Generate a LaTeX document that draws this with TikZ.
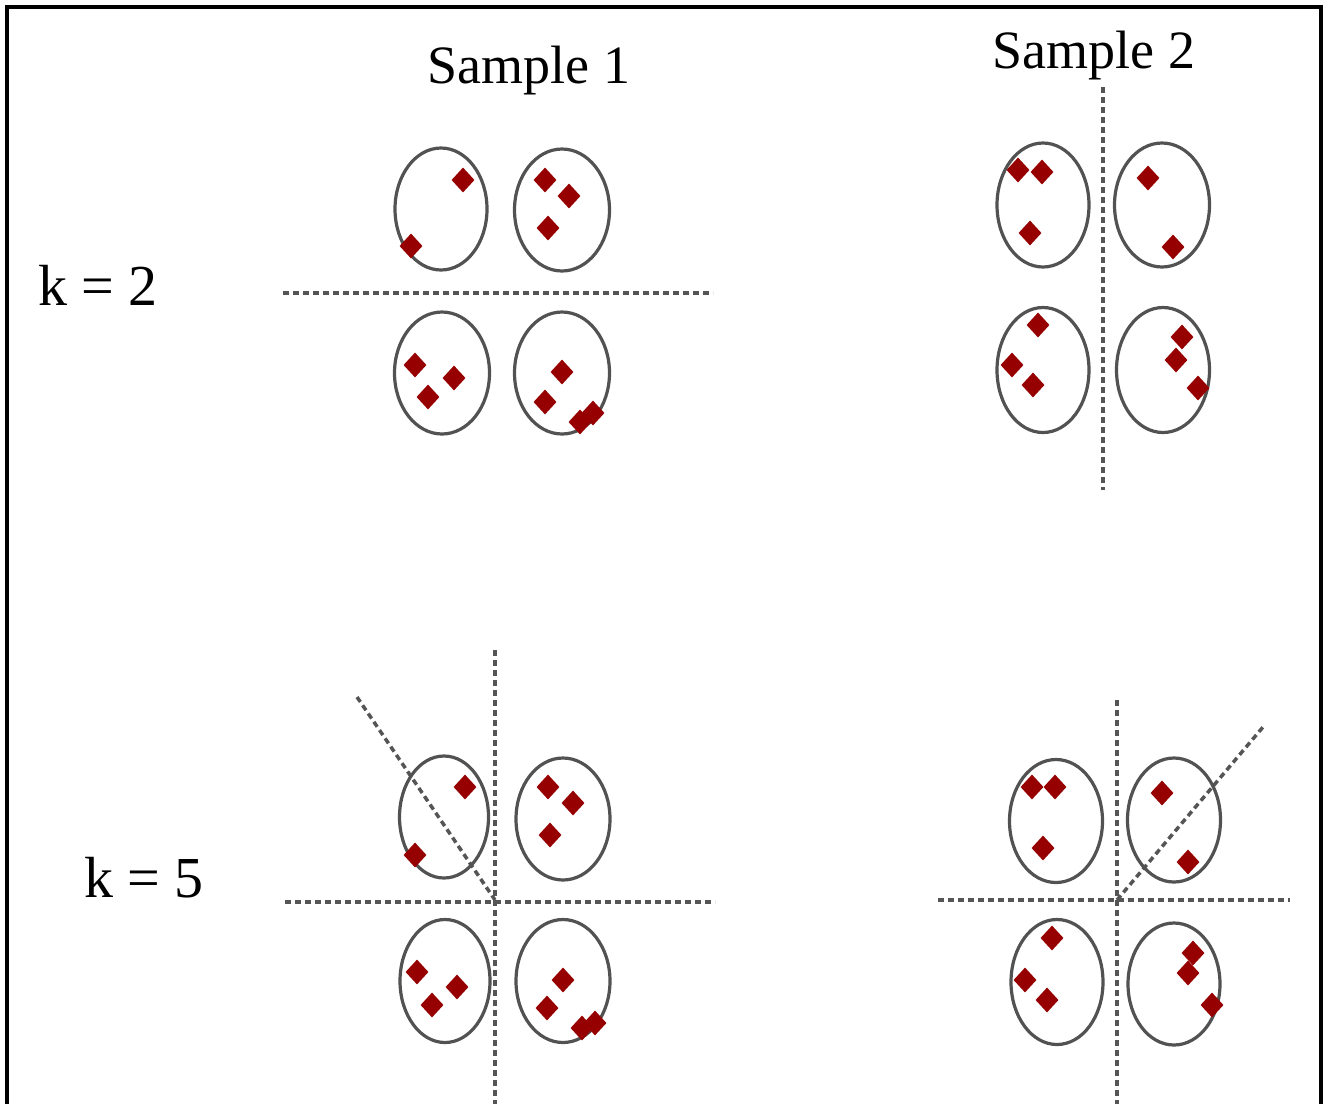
\documentclass[tikz,border=0pt]{standalone}
\usepackage{fontspec}
\setmainfont{Liberation Serif}
\usetikzlibrary{shapes.geometric}
\definecolor{ringgray}{RGB}{82,82,82}
\definecolor{cutgray}{RGB}{85,85,85}
\definecolor{ptred}{RGB}{150,0,0}
\begin{document}
\begin{tikzpicture}[x=1pt,y=-1pt,
  ring/.style={draw=ringgray,line width=3.2pt,ellipse,inner sep=0pt,
               minimum width=92pt,minimum height=122pt},
  pt/.style={fill=ptred,diamond,inner sep=0pt,minimum width=23pt,minimum height=25pt},
  cut/.style={draw=cutgray,line width=4.5pt,dash pattern=on 6pt off 4pt},
  lbl/.style={inner sep=0pt,anchor=base,font=\fontsize{54}{60}\selectfont},
  rowlbl/.style={inner sep=0pt,anchor=base west,font=\fontsize{58}{64}\selectfont}]
\useasboundingbox (0,0) rectangle (1325,1104);
% frame (open at the bottom)
\draw[line width=4pt] (7,1104) -- (7,7) -- (1321,7) -- (1321,1104);

% column and row labels
\node[lbl] (s1) at (529,83) {Sample 1};
\node[lbl] (s2) at (1094,68) {Sample 2};
\node[rowlbl] (k2) at (38,305) {k = 2};
\node[rowlbl] (k5) at (84,897) {k = 5};

% ---- Sample 1, k = 2 ----
\coordinate (a1) at (283,293);
\coordinate (a2) at (713,293);
\draw[cut] (a1) -- (a2);
\node[ring] (p1) at (441,209) {};
\node[ring,minimum width=95pt] (p2) at (562,210) {};
\node[ring,minimum width=95pt] (p3) at (442,373) {};
\node[ring,minimum width=95pt] (p4) at (562,373) {};
\foreach \x/\y in {463/180,411/246,
                   545/180,569/196,548/228,
                   415/365,454/378,428/397,
                   562/372,545/402,580/422,593/413}
  \node[pt] at (\x,\y) {};

% ---- Sample 2, k = 2 ----
\coordinate (b1) at (1103,87);
\coordinate (b2) at (1103,490);
\draw[cut] (b1) -- (b2);
\node[ring,minimum height=124pt] (q1) at (1043,205) {};
\node[ring,minimum width=95pt,minimum height=124pt] (q2) at (1162,205) {};
\node[ring,minimum height=125pt] (q3) at (1043,370) {};
\node[ring,minimum width=93pt,minimum height=125pt] (q4) at (1163,370) {};
\foreach \x/\y in {1018/170,1042/172,1030/233,
                   1148/178,1173/247,
                   1038/325,1012/365,1033/385,
                   1182/337,1176/360,1198/388}
  \node[pt] at (\x,\y) {};

% ---- Sample 1, k = 5 ----
\coordinate (c0) at (495,900);
\coordinate (c1) at (285,902);
\coordinate (c2) at (715,902);
\coordinate (c3) at (495,650);
\coordinate (c4) at (495,1104);
\coordinate (c5) at (357,697);
\draw[cut] (c1) -- (c2);
\draw[cut] (c3) -- (c4);
\draw[cut,line width=3.5pt] (c5) -- (c0);
\node[ring,minimum width=89pt] (r1) at (444,817) {};
\node[ring,minimum width=94pt] (r2) at (563,819) {};
\node[ring,minimum width=90pt,minimum height=123pt] (r3) at (445,981) {};
\node[ring,minimum width=94pt,minimum height=123pt] (r4) at (563,981) {};
\foreach \x/\y in {465/787,415/855,
                   548/787,573/803,550/835,
                   417/972,457/987,432/1005,
                   563/980,547/1008,582/1028,595/1023}
  \node[pt] at (\x,\y) {};

% ---- Sample 2, k = 5 ----
\coordinate (d0) at (1117,900);
\coordinate (d1) at (938,900);
\coordinate (d2) at (1290,900);
\coordinate (d3) at (1117,700);
\coordinate (d4) at (1117,1104);
\coordinate (d5) at (1263,727);
\draw[cut] (d1) -- (d2);
\draw[cut] (d3) -- (d4);
\draw[cut,line width=3.5pt] (d0) -- (d5);
\node[ring,minimum width=93pt,minimum height=123pt] (t1) at (1056,821) {};
\node[ring,minimum width=93pt,minimum height=124pt] (t2) at (1174,820) {};
\node[ring,minimum width=92pt,minimum height=125pt] (t3) at (1057,982) {};
\node[ring,minimum width=92pt,minimum height=122pt] (t4) at (1174,984) {};
\foreach \x/\y in {1032/787,1055/787,1043/848,
                   1162/793,1188/862,
                   1052/938,1025/980,1047/1000,
                   1193/953,1188/973,1212/1005}
  \node[pt] at (\x,\y) {};
\end{tikzpicture}
\end{document}
